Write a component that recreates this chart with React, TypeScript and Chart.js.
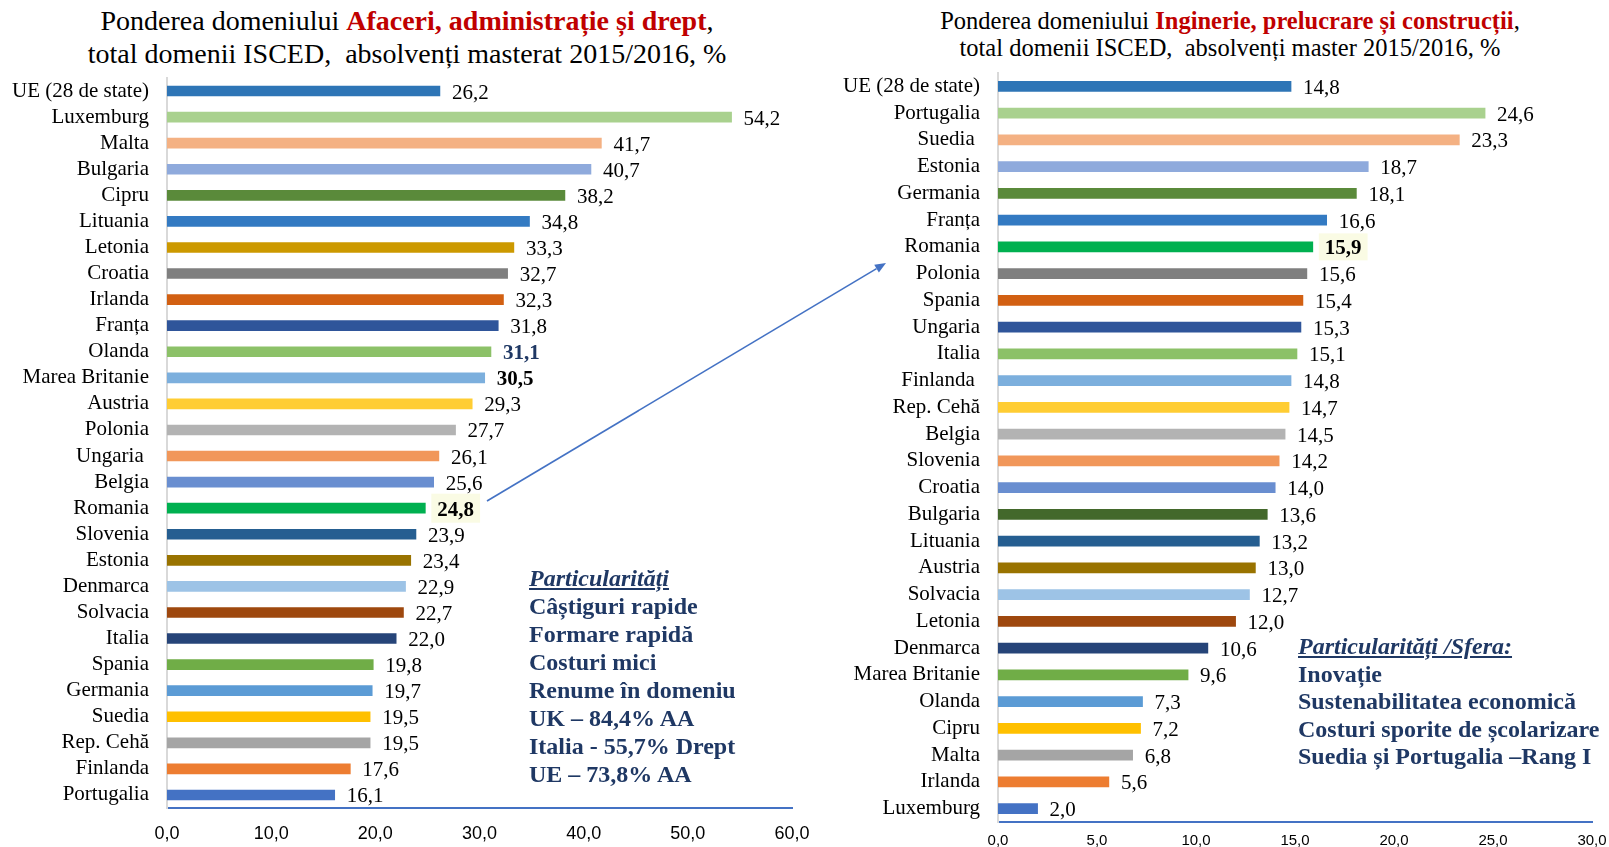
import React, { useEffect, useRef } from "react";
import { Chart, registerables } from "chart.js";

Chart.register(...registerables);

// ---------- DATA ----------
const leftCategories = [
  "UE (28 de state)", "Luxemburg", "Malta", "Bulgaria", "Cipru", "Lituania", "Letonia",
  "Croatia", "Irlanda", "Franța", "Olanda", "Marea Britanie", "Austria", "Polonia",
  "Ungaria ", "Belgia", "Romania", "Slovenia", "Estonia", "Denmarca", "Solvacia",
  "Italia", "Spania", "Germania", "Suedia", "Rep. Cehă", "Finlanda", "Portugalia",
];
const leftValues = [
  26.2, 54.2, 41.7, 40.7, 38.2, 34.8, 33.3, 32.7, 32.3, 31.8, 31.1, 30.5, 29.3, 27.7,
  26.1, 25.6, 24.8, 23.9, 23.4, 22.9, 22.7, 22.0, 19.8, 19.7, 19.5, 19.5, 17.6, 16.1,
];
const leftTicks = [0, 10, 20, 30, 40, 50, 60];

const rightCategories = [
  "UE (28 de state)", "Portugalia", "Suedia ", "Estonia", "Germania", "Franța", "Romania",
  "Polonia", "Spania", "Ungaria", "Italia", "Finlanda ", "Rep. Cehă", "Belgia",
  "Slovenia", "Croatia", "Bulgaria", "Lituania", "Austria", "Solvacia", "Letonia",
  "Denmarca", "Marea Britanie", "Olanda", "Cipru", "Malta", "Irlanda", "Luxemburg",
];
const rightValues = [
  14.8, 24.6, 23.3, 18.7, 18.1, 16.6, 15.9, 15.6, 15.4, 15.3, 15.1, 14.8, 14.7, 14.5,
  14.2, 14.0, 13.6, 13.2, 13.0, 12.7, 12.0, 10.6, 9.6, 7.3, 7.2, 6.8, 5.6, 2.0,
];
const rightTicks = [0, 5, 10, 15, 20, 25, 30];

const leftNotes = [
  "Câștiguri rapide",
  "Formare rapidă",
  "Costuri mici",
  "Renume în domeniu",
  "UK – 84,4% AA",
  "Italia - 55,7% Drept",
  "UE – 73,8% AA",
];
const rightNotes = [
  "Inovație",
  "Sustenabilitatea economică",
  "Costuri sporite de școlarizare",
  "Suedia și Portugalia –Rang I",
];

// ---------- STYLES ----------
const leftColors = [
  "#2E75B6", "#A9D18E", "#F4B183", "#8FAADC", "#5A8A3A", "#337AC2", "#CC9900",
  "#7F7F7F", "#D26012", "#2F559A", "#8CC168", "#7CAFDD", "#FFCD33", "#B3B3B3",
  "#F1975A", "#698ED0", "#00B050", "#255E91", "#997300", "#9DC3E6", "#9E480E",
  "#264478", "#70AD47", "#5B9BD5", "#FFC000", "#A5A5A5", "#ED7D31", "#4472C4",
];
const rightColors = [
  "#2E75B6", "#A9D18E", "#F4B183", "#8FAADC", "#5A8A3A", "#337AC2", "#00B050",
  "#7F7F7F", "#D26012", "#2F559A", "#8CC168", "#7CAFDD", "#FFCD33", "#B3B3B3",
  "#F1975A", "#698ED0", "#43682B", "#255E91", "#997300", "#9DC3E6", "#9E480E",
  "#264478", "#70AD47", "#5B9BD5", "#FFC000", "#A5A5A5", "#ED7D31", "#4472C4",
];

const leftHighlights = {
  Olanda: { bold: true, color: "#1F3864" },
  "Marea Britanie": { bold: true, color: "#000000" },
  Romania: { bold: true, color: "#000000", bg: "#FAFBE4" },
};
const rightHighlights = {
  Romania: { bold: true, color: "#000000", bg: "#FAFBE4" },
};

const SERIF = '"Liberation Serif", "Times New Roman", serif';
const SANS = '"Liberation Sans", Arial, sans-serif';
const NAVY = "#1F3864";

const fmt = (v: number) => v.toFixed(1).replace(".", ",");

const valueLabelPlugin = {
  id: "valueLabels",
  afterDatasetsDraw(chart: any, _args: any, opts: any) {
    const { ctx } = chart;
    const meta = chart.getDatasetMeta(0);
    const ds = chart.data.datasets[0];
    meta.data.forEach((bar: any, i: number) => {
      const name = String(chart.data.labels[i]).trim();
      const st = (opts.highlights && opts.highlights[name]) || {};
      const text = fmt(ds.data[i]);
      ctx.save();
      ctx.font = `${st.bold ? "bold " : ""}${opts.size}px ${SERIF}`;
      const x = bar.x + opts.offset;
      const y = bar.y + 2;
      const w = ctx.measureText(text).width;
      if (st.bg) {
        ctx.fillStyle = st.bg;
        ctx.fillRect(x - 6, bar.y - opts.boxH / 2, w + 12, opts.boxH);
      }
      ctx.fillStyle = st.color || "#000000";
      ctx.textBaseline = "middle";
      ctx.textAlign = "left";
      ctx.fillText(text, x, y);
      ctx.restore();
    });
  },
};

type PanelProps = {
  labels: string[];
  values: number[];
  colors: string[];
  ticks: number[];
  highlights: any;
  width: number;
  height: number;
  padTop: number;
  padRight: number;
  yWidth: number;
  xHeight: number;
  tickSize: number;
  tickPad: number;
  boxH: number;
  style: React.CSSProperties;
};

function BarPanel(p: PanelProps) {
  const ref = useRef<HTMLCanvasElement | null>(null);
  useEffect(() => {
    if (!ref.current) return;
    const step = p.ticks[1] - p.ticks[0];
    const chart = new Chart(ref.current, {
      type: "bar",
      data: {
        labels: p.labels,
        datasets: [
          {
            data: p.values,
            backgroundColor: p.colors,
            borderWidth: 0,
            barThickness: 10,
          },
        ],
      },
      plugins: [valueLabelPlugin],
      options: {
        indexAxis: "y",
        animation: false,
        responsive: false,
        maintainAspectRatio: false,
        layout: { padding: { top: p.padTop, right: p.padRight, bottom: 0, left: 0 } },
        plugins: {
          legend: { display: false },
          tooltip: { enabled: false },
          title: { display: false },
          valueLabels: { size: 21, offset: 12, highlights: p.highlights, boxH: p.boxH },
        } as any,
        scales: {
          x: {
            min: p.ticks[0],
            max: p.ticks[p.ticks.length - 1],
            ticks: {
              stepSize: step,
              color: "#000000",
              font: { family: SANS, size: p.tickSize },
              padding: p.tickPad,
              maxRotation: 0,
              callback: (v: any) => fmt(Number(v)),
            },
            grid: { display: false, drawTicks: false },
            border: { display: true, color: "#4472C4", width: 2 },
            afterFit: (s: any) => {
              s.height = p.xHeight;
              s.paddingLeft = 0;
              s.paddingRight = 0;
            },
          },
          y: {
            ticks: {
              color: "#000000",
              font: { family: SERIF, size: 21 },
              padding: 18,
              autoSkip: false,
            },
            grid: { display: false, drawTicks: false },
            border: { display: true, color: "#D9D9D9", width: 2 },
            afterFit: (s: any) => {
              s.width = p.yWidth;
              s.paddingTop = 0;
              s.paddingBottom = 0;
            },
          },
        },
      } as any,
    });
    return () => chart.destroy();
  }, []);
  return (
    <canvas
      ref={ref}
      width={p.width}
      height={p.height}
      style={{ position: "absolute", width: p.width, height: p.height, ...p.style }}
    />
  );
}

export default function App() {
  useEffect(() => {
    document.body.style.margin = "0";
  }, []);

  // arrow geometry (annotation)
  const ax1 = 487, ay1 = 501, ax2 = 886, ay2 = 263;
  const dx = ax2 - ax1, dy = ay2 - ay1;
  const len = Math.hypot(dx, dy);
  const ux = dx / len, uy = dy / len;
  const bx = ax2 - 11 * ux, by = ay2 - 11 * uy;
  const nx = -uy, ny = ux;
  const head = `${ax2},${ay2} ${bx + 4.5 * nx},${by + 4.5 * ny} ${bx - 4.5 * nx},${by - 4.5 * ny}`;

  return (
    <div
      style={{
        position: "fixed",
        left: 0,
        top: 0,
        width: 1609,
        height: 847,
        overflow: "hidden",
        background: "#FFFFFF",
      }}
    >
      {/* Left title */}
      <div
        style={{
          position: "absolute",
          left: 7,
          top: 4,
          width: 800,
          textAlign: "center",
          fontFamily: SERIF,
          fontSize: 28,
          lineHeight: "33px",
          whiteSpace: "pre",
          color: "#000",
        }}
      >
        <div>
          Ponderea domeniului{" "}
          <span style={{ color: "#C00000", fontWeight: "bold" }}>
            Afaceri, administrație și drept
          </span>
          ,
        </div>
        <div>total domenii ISCED,  absolvenți masterat 2015/2016, %</div>
      </div>

      {/* Right title */}
      <div
        style={{
          position: "absolute",
          left: 830,
          top: 7,
          width: 800,
          textAlign: "center",
          fontFamily: SERIF,
          fontSize: 24.5,
          lineHeight: "27px",
          whiteSpace: "pre",
          color: "#000",
        }}
      >
        <div>
          Ponderea domeniului{" "}
          <span style={{ color: "#C00000", fontWeight: "bold" }}>
            Inginerie, prelucrare și construcții
          </span>
          ,
        </div>
        <div>total domenii ISCED,  absolvenți master 2015/2016, %</div>
      </div>

      <BarPanel
        labels={leftCategories}
        values={leftValues}
        colors={leftColors}
        ticks={leftTicks}
        highlights={leftHighlights}
        width={820}
        height={847}
        padTop={78}
        padRight={28}
        yWidth={167}
        xHeight={39}
        tickSize={18}
        tickPad={15}
        boxH={29}
        style={{ left: 0, top: 0 }}
      />

      <BarPanel
        labels={rightCategories}
        values={rightValues}
        colors={rightColors}
        ticks={rightTicks}
        highlights={rightHighlights}
        width={789}
        height={847}
        padTop={73}
        padRight={17}
        yWidth={178}
        xHeight={25}
        tickSize={15}
        tickPad={10}
        boxH={27}
        style={{ left: 820, top: 0 }}
      />

      {/* Left notes */}
      <div
        style={{
          position: "absolute",
          left: 529,
          top: 564,
          fontFamily: SERIF,
          fontWeight: "bold",
          fontSize: 24,
          lineHeight: "28px",
          color: NAVY,
          whiteSpace: "pre",
        }}
      >
        <div style={{ fontStyle: "italic", textDecoration: "underline" }}>Particularități</div>
        {leftNotes.map((t) => (
          <div key={t}>{t}</div>
        ))}
      </div>

      {/* Right notes */}
      <div
        style={{
          position: "absolute",
          left: 1298,
          top: 633,
          fontFamily: SERIF,
          fontWeight: "bold",
          fontSize: 24,
          lineHeight: "27.6px",
          color: NAVY,
          whiteSpace: "pre",
        }}
      >
        <div style={{ fontStyle: "italic", textDecoration: "underline" }}>
          Particularități /Sfera:
        </div>
        {rightNotes.map((t) => (
          <div key={t}>{t}</div>
        ))}
      </div>

      {/* Arrow */}
      <svg
        width={1609}
        height={847}
        style={{ position: "absolute", left: 0, top: 0, pointerEvents: "none" }}
      >
        <line x1={ax1} y1={ay1} x2={bx} y2={by} stroke="#4472C4" strokeWidth={1.6} />
        <polygon points={head} fill="#4472C4" />
      </svg>
    </div>
  );
}
